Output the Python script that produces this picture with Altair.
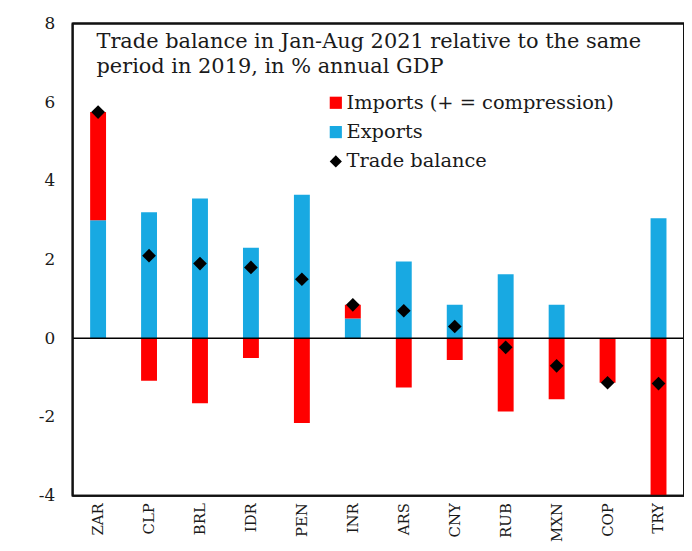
import altair as alt
import pandas as pd

cats = ["ZAR", "CLP", "BRL", "IDR", "PEN", "INR", "ARS", "CNY", "RUB", "MXN", "COP", "TRY"]
exports = [3.0, 3.2, 3.55, 2.3, 3.65, 0.5, 1.95, 0.85, 1.63, 0.85, 0.0, 3.05]
imports = [2.75, -1.08, -1.65, -0.5, -2.15, 0.35, -1.25, -0.55, -1.86, -1.55, -1.13, -4.2]
balance = [5.75, 2.1, 1.9, 1.8, 1.5, 0.85, 0.7, 0.3, -0.23, -0.7, -1.13, -1.15]

series = ["Imports (+ = compression)", "Exports", "Trade balance"]
colors = ["#ff0000", "#18a9e2", "#000000"]
shapes = ["square", "square", "diamond"]
yticks = [-4, -2, 0, 2, 4, 6, 8]

FONT = "DejaVu Serif"
TXT = "#1a1a1a"

rows = []
for c, e, i in zip(cats, exports, imports):
    rows.append({"cat": c, "series": series[1], "value": e, "ord": 0})
    rows.append({"cat": c, "series": series[0], "value": i, "ord": 1})
bars_df = pd.DataFrame(rows)
bal_df = pd.DataFrame({"cat": cats, "value": balance, "series": series[2]})
zero_df = pd.DataFrame({"y": [0]})
one_df = pd.DataFrame({"k": [1]})

xscale = alt.Scale(paddingInner=0.0, paddingOuter=0.0)
yscale = alt.Scale(domain=[-4, 8], nice=False)

xaxis = alt.Axis(labelAngle=-90, labelFont=FONT, labelFontSize=15,
                 labelColor=TXT, labelPadding=7, ticks=False, domain=False, title=None)
yaxis = alt.Axis(values=yticks, labelFont=FONT, labelFontSize=17, labelColor=TXT,
                 labelExpr="toString(datum.value)", labelPadding=18, ticks=False,
                 domain=False, grid=False, title=None)

leg = dict(title=None, orient="none", legendX=255, legendY=70,
           labelFont=FONT, labelFontSize=19.5, labelColor=TXT, labelLimit=0,
           symbolSize=150, rowPadding=8.5, symbolStrokeWidth=0, labelOffset=1)

color = alt.Color("series:N", scale=alt.Scale(domain=series, range=colors),
                  legend=alt.Legend(**leg))
shape = alt.Shape("series:N", scale=alt.Scale(domain=series, range=shapes),
                  legend=alt.Legend(**leg))

bars = alt.Chart(bars_df).mark_bar(size=16, clip=True).encode(
    x=alt.X("cat:N", sort=cats, scale=xscale, axis=xaxis),
    y=alt.Y("value:Q", stack="zero", scale=yscale, axis=yaxis),
    color=color,
    order=alt.Order("ord:Q"),
)

zero = alt.Chart(zero_df).mark_rule(color="black", strokeWidth=1.5).encode(
    y=alt.Y("y:Q", scale=yscale)
)

points = alt.Chart(bal_df).mark_point(filled=True, size=190, opacity=1).encode(
    x=alt.X("cat:N", sort=cats, scale=xscale),
    y=alt.Y("value:Q", scale=yscale),
    color=color,
    shape=shape,
)

# plot frame (four edges)
edge = alt.Chart(one_df).mark_rule(color="#111", strokeWidth=2)
top_edge = edge.encode(y=alt.Y(datum=8, scale=yscale))
bottom_edge = edge.encode(y=alt.Y(datum=-4, scale=yscale))
left_edge = edge.encode(x=alt.value(0))
right_edge = edge.encode(x=alt.value("width"))

chart = alt.layer(bars, zero, points, top_edge, bottom_edge, left_edge, right_edge).properties(
    width=615, height=475,
    background="white",
    autosize=alt.AutoSizeParams(type="none"),
    padding={"left": 65, "top": 14, "right": 0, "bottom": 46},
    title=alt.Title(
        ["Trade balance in Jan-Aug 2021 relative to the same",
         "period in 2019, in % annual GDP"],
        anchor="start", frame="group", font=FONT, fontSize=21, fontWeight="normal",
        color=TXT, dx=24, dy=67, lineHeight=25,
    ),
).configure_view(stroke="black", strokeWidth=2)

chart.save("out.html", embed_options={"renderer": "svg", "actions": False})
